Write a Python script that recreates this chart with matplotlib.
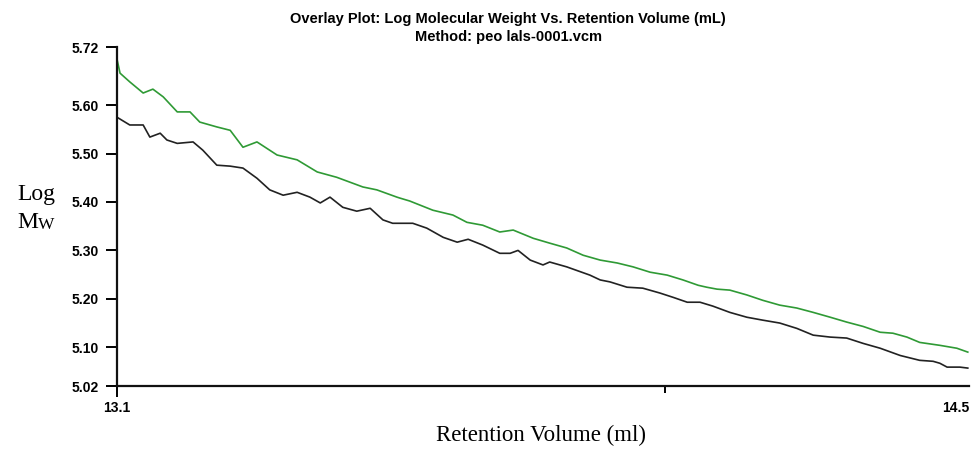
import matplotlib
matplotlib.use('Agg')  # no display
import matplotlib.pyplot as plt

# green trace (upper)
green_x = [13.100, 13.105, 13.121, 13.143, 13.159, 13.176, 13.199, 13.220, 13.236, 13.264,
           13.286, 13.307, 13.330, 13.363, 13.396, 13.429, 13.461, 13.504, 13.527, 13.560,
           13.565, 13.581, 13.619, 13.652, 13.675, 13.701, 13.729, 13.751, 13.784, 13.811,
           13.839, 13.866, 13.894, 13.922, 13.948, 13.976, 14.004, 14.030, 14.055, 14.069,
           14.086, 14.107, 14.135, 14.161, 14.189, 14.217, 14.244, 14.272, 14.299, 14.326,
           14.354, 14.375, 14.398, 14.419, 14.452, 14.480, 14.498]
green_y = [5.695, 5.666, 5.648, 5.625, 5.633, 5.617, 5.586, 5.586, 5.565, 5.555,
           5.548, 5.513, 5.524, 5.497, 5.487, 5.462, 5.451, 5.431, 5.425, 5.410,
           5.408, 5.402, 5.383, 5.373, 5.358, 5.352, 5.338, 5.342, 5.325, 5.315,
           5.305, 5.290, 5.280, 5.274, 5.266, 5.255, 5.249, 5.239, 5.228, 5.224,
           5.220, 5.218, 5.208, 5.197, 5.187, 5.181, 5.172, 5.162, 5.152, 5.143,
           5.131, 5.129, 5.121, 5.110, 5.104, 5.098, 5.090]

# black trace (lower)
black_x = [13.100, 13.121, 13.143, 13.154, 13.171, 13.182, 13.199, 13.225, 13.241, 13.264,
           13.286, 13.307, 13.330, 13.351, 13.373, 13.396, 13.417, 13.434, 13.450, 13.471,
           13.494, 13.516, 13.537, 13.553, 13.586, 13.609, 13.636, 13.659, 13.677, 13.701,
           13.729, 13.746, 13.759, 13.779, 13.800, 13.811, 13.839, 13.877, 13.894, 13.910,
           13.938, 13.964, 13.992, 14.014, 14.037, 14.058, 14.079, 14.107, 14.135, 14.161,
           14.189, 14.217, 14.244, 14.272, 14.299, 14.326, 14.354, 14.387, 14.419, 14.441,
           14.452, 14.464, 14.485, 14.498]
black_y = [5.575, 5.559, 5.559, 5.534, 5.542, 5.528, 5.521, 5.524, 5.507, 5.476,
           5.474, 5.470, 5.449, 5.425, 5.414, 5.420, 5.410, 5.398, 5.410, 5.389,
           5.381, 5.387, 5.363, 5.356, 5.356, 5.346, 5.327, 5.317, 5.323, 5.311,
           5.294, 5.294, 5.300, 5.280, 5.270, 5.276, 5.266, 5.249, 5.239, 5.235,
           5.224, 5.222, 5.212, 5.203, 5.193, 5.193, 5.185, 5.172, 5.162, 5.156,
           5.150, 5.139, 5.125, 5.121, 5.119, 5.108, 5.098, 5.083, 5.073, 5.071,
           5.067, 5.059, 5.059, 5.057]

y_ticks = [5.02, 5.10, 5.20, 5.30, 5.40, 5.50, 5.60, 5.72]
x_ticks = [13.1, 14.0, 14.5]
x_labels = ['13.1', '', '14.5']

fig = plt.figure(figsize=(9.79, 4.49), dpi=100)
ax = fig.add_axes([0.1195, 0.1403, 0.8703, 0.755])

ax.plot(green_x, green_y, color='#2f9a35', lw=1.2)
ax.plot(black_x, black_y, color='#222222', lw=1.2)

ax.set_xlim(13.1, 14.5)
ax.set_ylim(5.02, 5.72)

for s in ['top', 'right']:
    ax.spines[s].set_visible(False)
for s in ['left', 'bottom']:
    ax.spines[s].set_linewidth(1.6)
    ax.spines[s].set_color('#111111')

ax.set_yticks(y_ticks)
ax.set_yticklabels(['%.2f' % v for v in y_ticks], fontsize=10, fontweight='bold',
                   family='Liberation Sans')
ax.set_xticks(x_ticks)
ax.set_xticklabels(x_labels, fontsize=10, fontweight='bold', family='Liberation Sans')
ax.tick_params(axis='y', length=8, width=1.4, pad=5)
ax.tick_params(axis='x', length=8, width=1.4, pad=3)

# shorter middle mark, no mark at the right end, label kept inside the figure
ax.xaxis.get_major_ticks()[1].tick1line.set_markersize(5)
ax.xaxis.get_major_ticks()[2].tick1line.set_visible(False)
ax.get_xticklabels()[2].set_ha('right')

# title, two lines
fig.text(0.519, 0.958, 'Overlay Plot: Log Molecular Weight Vs. Retention Volume (mL)',
         ha='center', va='center', fontsize=10.5, fontweight='bold', family='Liberation Sans')
fig.text(0.519, 0.918, 'Method: peo lals-0001.vcm',
         ha='center', va='center', fontsize=10.5, fontweight='bold', family='Liberation Sans')

# y label: Log M_W
fig.text(0.018, 0.555, 'Log', ha='left', va='baseline', fontsize=17, family='Liberation Serif')
fig.text(0.018, 0.493, 'M', ha='left', va='baseline', fontsize=17, family='Liberation Serif')
fig.text(0.039, 0.490, 'W', ha='left', va='baseline', fontsize=12.5, family='Liberation Serif')

fig.text(0.553, 0.018, 'Retention Volume (ml)', ha='center', va='baseline',
         fontsize=16.5, family='Liberation Serif')

fig.savefig('out.png', dpi=100)
